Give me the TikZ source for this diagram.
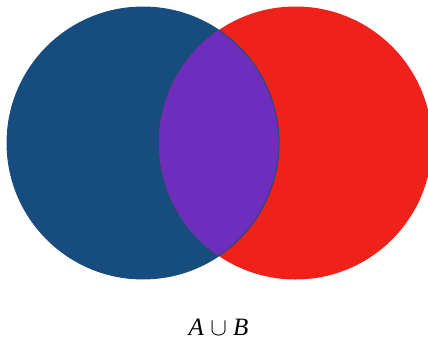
\documentclass[tikz,border=0pt]{standalone}
\usepackage{fontspec}
\setmainfont{Liberation Serif}
\definecolor{setA}{RGB}{23,76,126}
\definecolor{setB}{RGB}{238,34,26}
\definecolor{setAB}{RGB}{109,46,190}
\begin{document}
\begin{tikzpicture}[x=1pt,y=-1pt,
  setfill/.style={line width=0pt}]
\useasboundingbox (0,0) rectangle (428,340);
\clip (0,0) rectangle (428,340);
\coordinate (ca) at (143,143);
\coordinate (cb) at (295.5,143);
\fill[setA] (ca) circle[radius=136];
\fill[setB] (cb) circle[radius=136.5];
\begin{scope}
  \clip (ca) circle[radius=136];
  \fill[setAB] (cb) circle[radius=136.5];
\end{scope}
\draw[setA, line width=0.9pt] (ca) circle[radius=136];
\node[anchor=base, inner sep=0pt, font=\fontsize{25}{30}\selectfont] (lbl) at (218.5,335) {\textit{A} $\cup$ \textit{B}};
\end{tikzpicture}
\end{document}
